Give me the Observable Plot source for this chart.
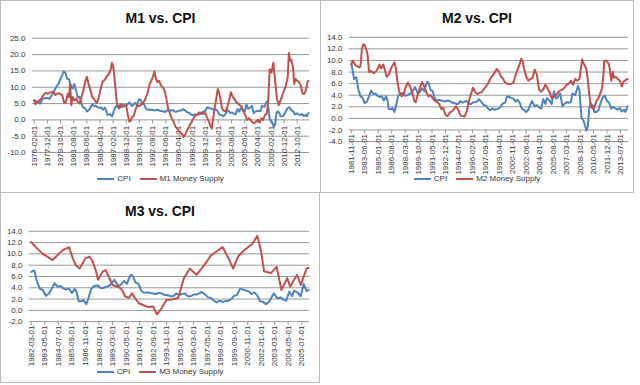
<!DOCTYPE html>
<html><head><meta charset="utf-8">
<script src="https://cdn.jsdelivr.net/npm/d3@7"></script>
<script src="https://cdn.jsdelivr.net/npm/@observablehq/plot@0.6"></script>
<style>
body{margin:0;background:#fff;font-family:"Liberation Sans",Arial,sans-serif;width:640px;height:385px;position:relative;overflow:hidden}
.panel{position:absolute;box-sizing:border-box;border:1px solid #bdbdbd;background:#fff}
.plot{position:absolute;left:-1px;top:-1px}
.title{position:absolute;left:0;right:0;text-align:center;font-weight:bold;font-size:14px;line-height:14px;color:#111}
.legend{position:absolute;left:0;right:0;display:flex;justify-content:center;align-items:center;font-size:8px;line-height:10px;color:#333}
.sw{display:inline-block;width:17px;height:2px;margin-right:3px}
.gap{display:inline-block;width:9px}
</style></head><body>
<div id="p1" class="panel" style="left:0;top:0;width:321px;height:193px"></div>
<div id="p2" class="panel" style="left:320px;top:0;width:314px;height:193px"></div>
<div id="p3" class="panel" style="left:0;top:192px;width:320px;height:191px"></div>
<script>
// ---- data (year-over-year %) ----
const cpi = [["1976-02",6.0],["1976-06",5.6],["1976-10",5.2],["1976-12",5.0],["1977-04",6.5],["1977-08",6.6],["1977-12",6.7],["1978-04",6.5],["1978-08",7.9],["1978-12",9.0],["1979-03",10.2],["1979-06",10.9],["1979-09",12.2],["1979-12",13.3],["1980-03",14.8],["1980-06",14.4],["1980-09",12.6],["1980-12",12.5],["1981-03",10.5],["1981-06",9.6],["1981-09",11.0],["1981-11",9.4],["1981-12",8.9],["1982-03",6.8],["1982-06",7.1],["1982-09",5.0],["1982-12",3.8],["1983-03",3.6],["1983-06",2.6],["1983-09",2.9],["1983-12",3.8],["1984-03",4.8],["1984-06",4.2],["1984-09",4.3],["1984-12",3.9],["1985-03",3.7],["1985-06",3.8],["1985-09",3.1],["1985-12",3.8],["1986-02",3.1],["1986-04",1.6],["1986-07",1.6],["1986-09",1.8],["1986-12",1.1],["1987-02",2.1],["1987-05",3.8],["1987-08",4.3],["1987-12",4.4],["1988-03",3.9],["1988-06",4.0],["1988-09",4.2],["1988-12",4.4],["1989-03",5.0],["1989-05",5.4],["1989-09",4.3],["1989-12",4.6],["1990-03",5.2],["1990-06",4.7],["1990-08",5.6],["1990-10",6.3],["1990-12",6.1],["1991-03",4.9],["1991-06",4.7],["1991-09",3.4],["1991-12",3.1],["1992-03",3.2],["1992-06",3.1],["1992-09",3.0],["1992-12",2.9],["1993-03",3.1],["1993-06",3.0],["1993-09",2.7],["1993-12",2.7],["1994-03",2.5],["1994-06",2.5],["1994-09",3.0],["1994-12",2.7],["1995-03",2.9],["1995-06",3.0],["1995-09",2.5],["1995-12",2.5],["1996-03",2.8],["1996-06",2.8],["1996-09",3.0],["1996-11",3.3],["1997-03",2.8],["1997-06",2.3],["1997-09",2.2],["1997-12",1.7],["1998-03",1.4],["1998-06",1.7],["1998-09",1.5],["1998-12",1.6],["1999-03",1.7],["1999-06",2.0],["1999-09",2.6],["1999-12",2.7],["2000-03",3.8],["2000-06",3.7],["2000-09",3.5],["2000-12",3.4],["2001-03",2.9],["2001-06",3.2],["2001-09",2.6],["2001-12",1.6],["2002-03",1.5],["2002-06",1.1],["2002-09",1.5],["2002-12",2.4],["2003-02",3.0],["2003-06",2.1],["2003-09",2.3],["2003-12",1.9],["2004-03",1.7],["2004-06",3.3],["2004-09",2.5],["2004-11",3.5],["2005-03",3.1],["2005-06",2.5],["2005-09",4.7],["2005-12",3.4],["2006-02",3.6],["2006-06",4.3],["2006-09",2.1],["2006-12",2.5],["2007-03",2.8],["2007-06",2.7],["2007-09",2.8],["2007-11",4.3],["2008-03",4.0],["2008-07",5.6],["2008-09",4.9],["2008-12",0.1],["2009-03",-0.4],["2009-07",-2.1],["2009-09",-1.3],["2009-11",1.8],["2010-01",2.6],["2010-04",2.2],["2010-06",1.1],["2010-09",1.1],["2010-12",1.5],["2011-03",2.7],["2011-06",3.6],["2011-09",3.9],["2011-12",3.0],["2012-03",2.7],["2012-06",1.7],["2012-09",2.0],["2012-12",1.7],["2013-03",1.5],["2013-06",1.8],["2013-09",1.2],["2013-12",1.5],["2014-02",1.1],["2014-05",2.1]];

const m1Money = [["1976-02",6.0],["1976-04",4.8],["1976-07",5.6],["1976-10",5.8],["1977-01",6.4],["1977-04",7.2],["1977-07",8.0],["1977-10",8.3],["1978-01",8.0],["1978-04",8.4],["1978-07",8.5],["1978-10",8.7],["1979-01",7.6],["1979-04",8.0],["1979-07",8.2],["1979-10",7.8],["1980-01",7.5],["1980-04",5.2],["1980-07",5.5],["1980-10",8.0],["1980-12",7.0],["1981-02",11.0],["1981-04",4.5],["1981-06",7.0],["1981-09",6.0],["1981-12",6.5],["1982-03",5.5],["1982-06",5.0],["1982-09",7.0],["1982-12",9.0],["1983-03",11.5],["1983-06",13.2],["1983-09",11.0],["1983-12",9.0],["1984-03",7.0],["1984-06",6.5],["1984-09",5.5],["1984-11",5.2],["1985-02",7.0],["1985-05",9.5],["1985-08",11.5],["1985-10",12.0],["1986-01",12.5],["1986-04",13.5],["1986-07",14.0],["1986-10",15.5],["1986-12",17.5],["1987-02",16.5],["1987-04",13.5],["1987-06",9.5],["1987-08",5.5],["1987-10",4.0],["1987-12",3.5],["1988-03",4.8],["1988-06",4.5],["1988-09",4.5],["1988-12",4.3],["1989-02",2.0],["1989-05",-0.5],["1989-07",-0.4],["1989-10",1.0],["1989-12",1.0],["1990-03",2.8],["1990-06",4.5],["1990-09",4.2],["1990-12",4.5],["1991-03",5.0],["1991-06",5.7],["1991-09",7.0],["1991-12",8.5],["1992-03",11.0],["1992-06",12.0],["1992-09",13.5],["1992-11",14.8],["1993-01",13.0],["1993-04",11.5],["1993-07",12.0],["1993-10",10.5],["1994-01",10.0],["1994-04",9.0],["1994-07",6.5],["1994-10",3.5],["1995-01",2.0],["1995-04",0.5],["1995-07",-0.5],["1995-10",-2.0],["1996-01",-2.5],["1996-04",-3.5],["1996-07",-4.0],["1996-10",-4.5],["1996-12",-5.2],["1997-03",-4.5],["1997-06",-3.0],["1997-09",-2.0],["1997-12",-1.0],["1998-03",0.0],["1998-06",1.0],["1998-09",1.5],["1998-12",2.0],["1999-03",2.3],["1999-06",2.0],["1999-09",1.8],["1999-12",2.2],["2000-03",0.8],["2000-06",-0.5],["2000-09",-2.0],["2000-11",-2.7],["2001-01",0.0],["2001-03",2.5],["2001-06",6.0],["2001-09",9.5],["2001-11",8.5],["2002-01",7.0],["2002-04",3.5],["2002-07",2.8],["2002-10",2.5],["2003-01",4.0],["2003-04",6.0],["2003-07",8.5],["2003-10",7.0],["2004-01",6.5],["2004-04",5.5],["2004-07",5.0],["2004-10",4.5],["2005-01",4.0],["2005-04",2.5],["2005-07",1.5],["2005-10",0.0],["2006-01",0.5],["2006-04",0.0],["2006-07",-0.8],["2006-10",-1.0],["2007-01",-0.5],["2007-04",0.0],["2007-07",-0.8],["2007-10",0.5],["2008-01",0.0],["2008-04",1.5],["2008-07",2.0],["2008-09",5.0],["2008-12",15.5],["2009-03",14.5],["2009-06",17.5],["2009-09",12.0],["2009-12",6.5],["2010-03",4.5],["2010-06",6.0],["2010-09",7.5],["2010-12",9.0],["2011-03",10.5],["2011-06",13.0],["2011-08",20.5],["2011-10",18.0],["2011-12",18.5],["2012-03",16.0],["2012-05",11.0],["2012-07",12.5],["2012-10",12.0],["2013-01",11.5],["2013-04",10.5],["2013-07",8.0],["2013-10",8.0],["2014-01",9.5],["2014-03",11.5],["2014-05",12.0]];

const m2Money = [["1981-11",9.3],["1982-01",10.0],["1982-04",9.3],["1982-07",9.0],["1982-10",8.8],["1982-12",9.0],["1983-02",12.0],["1983-04",12.8],["1983-06",12.6],["1983-08",12.0],["1983-10",11.0],["1983-12",8.0],["1984-03",8.2],["1984-06",7.8],["1984-09",8.0],["1984-12",8.5],["1985-03",9.3],["1985-05",8.6],["1985-08",9.3],["1985-10",8.5],["1986-01",7.2],["1986-04",7.6],["1986-07",8.6],["1986-10",9.3],["1986-12",9.7],["1987-02",8.5],["1987-04",6.5],["1987-07",4.5],["1987-10",3.8],["1988-01",4.2],["1988-04",5.5],["1988-07",6.2],["1988-10",5.5],["1989-01",4.5],["1989-04",3.0],["1989-06",2.8],["1989-09",4.2],["1989-12",5.3],["1990-03",6.3],["1990-06",5.5],["1990-09",4.5],["1990-12",3.8],["1991-03",4.0],["1991-06",3.5],["1991-09",3.0],["1991-12",2.9],["1992-03",2.5],["1992-06",1.6],["1992-09",1.8],["1992-12",0.6],["1993-03",0.4],["1993-06",1.0],["1993-09",1.2],["1993-12",1.6],["1994-03",2.1],["1994-06",1.5],["1994-09",0.5],["1994-12",0.4],["1995-03",0.3],["1995-06",1.2],["1995-09",3.0],["1995-12",4.2],["1996-03",5.3],["1996-06",4.5],["1996-09",4.2],["1996-12",4.4],["1997-03",4.5],["1997-06",5.0],["1997-09",5.5],["1997-12",6.0],["1998-03",6.8],["1998-06",7.3],["1998-09",7.8],["1998-12",8.5],["1999-03",8.2],["1999-06",7.3],["1999-09",6.9],["1999-12",6.2],["2000-03",6.0],["2000-06",5.9],["2000-09",6.0],["2000-12",6.2],["2001-03",7.5],["2001-06",8.5],["2001-09",9.5],["2001-11",10.3],["2002-01",9.8],["2002-03",8.5],["2002-06",7.2],["2002-09",6.5],["2002-12",6.8],["2003-03",7.0],["2003-06",8.4],["2003-09",7.5],["2003-12",5.0],["2004-03",4.6],["2004-06",5.0],["2004-09",5.8],["2004-12",5.2],["2005-03",4.5],["2005-06",3.5],["2005-09",3.8],["2005-12",4.0],["2006-03",4.5],["2006-06",4.8],["2006-09",5.0],["2006-12",5.3],["2007-03",5.8],["2007-06",6.0],["2007-09",6.5],["2007-12",5.8],["2008-03",6.8],["2008-06",6.5],["2008-09",6.8],["2008-11",8.5],["2009-01",10.2],["2009-03",9.5],["2009-05",9.0],["2009-07",8.5],["2009-09",6.5],["2009-11",4.0],["2010-01",2.2],["2010-03",1.8],["2010-05",1.6],["2010-07",2.2],["2010-09",3.0],["2010-12",3.5],["2011-03",4.5],["2011-05",5.2],["2011-07",7.5],["2011-08",9.8],["2011-10",10.0],["2011-12",9.8],["2012-02",9.5],["2012-04",8.5],["2012-06",6.5],["2012-08",8.0],["2012-10",7.0],["2012-12",7.2],["2013-03",6.8],["2013-06",6.5],["2013-09",5.5],["2013-11",6.3],["2014-02",6.6],["2014-05",6.8]];

const m3Money = [["1982-03",12.1],["1982-05",11.7],["1982-08",11.1],["1983-03",10.0],["1983-06",9.7],["1984-01",8.9],["1984-11",10.6],["1985-06",11.2],["1985-10",9.2],["1986-01",8.0],["1986-05",7.4],["1986-11",9.2],["1987-03",9.5],["1987-06",8.9],["1987-10",6.9],["1987-12",5.4],["1988-05",6.9],["1988-08",7.1],["1989-03",4.5],["1989-10",4.1],["1990-01",3.6],["1990-04",2.5],["1990-08",2.2],["1990-11",3.0],["1991-06",1.3],["1991-10",1.0],["1992-04",0.6],["1992-09",0.7],["1993-01",-0.7],["1993-06",0.4],["1993-11",1.9],["1994-04",1.9],["1994-11",2.2],["1995-03",4.5],["1995-05",5.7],["1995-11",7.4],["1996-06",6.3],["1997-02",8.0],["1997-09",9.7],["1998-04",10.6],["1998-09",11.2],["1999-04",8.9],["1999-08",7.4],["2000-01",9.5],["2000-07",10.6],["2001-04",11.8],["2001-09",13.2],["2002-01",10.3],["2002-04",6.9],["2002-11",6.6],["2003-05",7.7],["2003-10",3.6],["2004-04",5.7],["2004-07",4.2],["2005-02",6.3],["2005-06",4.5],["2005-12",7.4],["2006-02",7.5]];

const m1Ticks = ["1976-02-01","1977-12-01","1979-10-01","1981-08-01","1983-06-01","1985-04-01","1987-02-01","1988-12-01","1990-10-01","1992-08-01","1994-06-01","1996-04-01","1998-02-01","1999-12-01","2001-10-01","2003-08-01","2005-06-01","2007-04-01","2009-02-01","2010-12-01","2012-10-01"];
const m2Ticks = ["1981-11-01","1983-06-01","1985-01-01","1986-08-01","1988-03-01","1989-10-01","1991-05-01","1992-12-01","1994-07-01","1996-02-01","1997-09-01","1999-04-01","2000-11-01","2002-06-01","2004-01-01","2005-08-01","2007-03-01","2008-10-01","2010-05-01","2011-12-01","2013-07-01"];
const m3Ticks = ["1982-03-01","1983-05-01","1984-07-01","1985-09-01","1986-11-01","1988-01-01","1989-03-01","1990-05-01","1991-07-01","1992-09-01","1993-11-01","1995-01-01","1996-03-01","1997-05-01","1998-07-01","1999-09-01","2000-11-01","2002-01-01","2003-03-01","2004-05-01","2005-07-01"];

const m1YTicks = [-10, -5, 0, 5, 10, 15, 20, 25];
const m2YTicks = [-4, -2, 0, 2, 4, 6, 8, 10, 12, 14];
const m3YTicks = [-2, 0, 2, 4, 6, 8, 10, 12, 14];

const titles = ["M1 vs. CPI", "M2 vs. CPI", "M3 vs. CPI"];
const seriesNames = [["CPI", "M1 Money Supply"], ["CPI", "M2 Money Supply"], ["CPI", "M3 Money Supply"]];

// ---- drawing ----
const BLUE = "#4F81BD", RED = "#C0504D", GRID = "#969696";
const parseM = d3.utcParse("%Y-%m");
const parseD = d3.utcParse("%Y-%m-%d");

function makeChart(cfg) {
  const x0 = parseM(cfg.xDomain[0]), x1 = parseM(cfg.xDomain[1]);
  const cpiPts = cpi.filter(d => { const t = parseM(d[0]); return t >= x0 && t <= x1; });
  return Plot.plot({
    width: cfg.width, height: cfg.height,
    marginTop: cfg.m[0], marginRight: cfg.m[1], marginBottom: cfg.m[2], marginLeft: cfg.m[3],
    style: {fontFamily: "'Liberation Sans', Arial, sans-serif", fontSize: "8px", color: "#333", background: "none", overflow: "visible"},
    x: {type: "utc", domain: [x0, x1], insetLeft: 2, insetRight: 1, axis: null},
    y: {domain: cfg.yDomain, axis: null},
    marks: [
      Plot.gridY(cfg.yTicks, {stroke: GRID, strokeOpacity: 1}),
      Plot.axisY({ticks: cfg.yTicks, tickSize: 0, tickPadding: 7, tickFormat: d => d.toFixed(1)}),
      Plot.ruleX(cfg.ticks, {x: d => parseD(d), y1: cfg.axisVal, y2: cfg.axisVal, insetBottom: -4, stroke: GRID}),
      Plot.text(cfg.ticks, {x: d => parseD(d), y: cfg.axisVal, text: d => d, rotate: -90, textAnchor: "end", dy: cfg.labelDy, fill: "#333"}),
      Plot.line(cpiPts, {x: d => parseM(d[0]), y: d => d[1], stroke: BLUE, strokeWidth: 2}),
      Plot.line(cfg.money, {x: d => parseM(d[0]), y: d => d[1], stroke: RED, strokeWidth: 2})
    ]
  });
}

function addPanel(id, idx, cfg, titleTop, legendTop) {
  const panel = document.getElementById(id);
  const svg = makeChart(cfg);
  svg.classList.add("plot");
  panel.appendChild(svg);
  const t = document.createElement("div");
  t.className = "title"; t.style.top = titleTop + "px"; t.textContent = titles[idx];
  panel.appendChild(t);
  const lg = document.createElement("div");
  lg.className = "legend"; lg.style.top = legendTop + "px";
  lg.innerHTML = `<span class="sw" style="background:${BLUE}"></span><span>${seriesNames[idx][0]}</span><span class="gap"></span><span class="sw" style="background:${RED}"></span><span>${seriesNames[idx][1]}</span>`;
  panel.appendChild(lg);
}

addPanel("p1", 0, {width: 321, height: 193, m: [38, 10, 40, 32], yDomain: [-10, 25], yTicks: m1YTicks, xDomain: ["1976-02", "2014-05"], ticks: m1Ticks, axisVal: 0, labelDy: 6, money: m1Money}, 10, 173);
addPanel("p2", 1, {width: 314, height: 193, m: [37, 4, 51, 29], yDomain: [-4, 14], yTicks: m2YTicks, xDomain: ["1981-11", "2014-05"], ticks: m2Ticks, axisVal: -2, labelDy: 4, money: m2Money}, 10, 173);
addPanel("p3", 2, {width: 320, height: 191, m: [39, 9, 61, 29], yDomain: [-2, 14], yTicks: m3YTicks, xDomain: ["1982-03", "2006-02"], ticks: m3Ticks, axisVal: -2, labelDy: 4, money: m3Money}, 11, 174);
</script>
</body></html>
